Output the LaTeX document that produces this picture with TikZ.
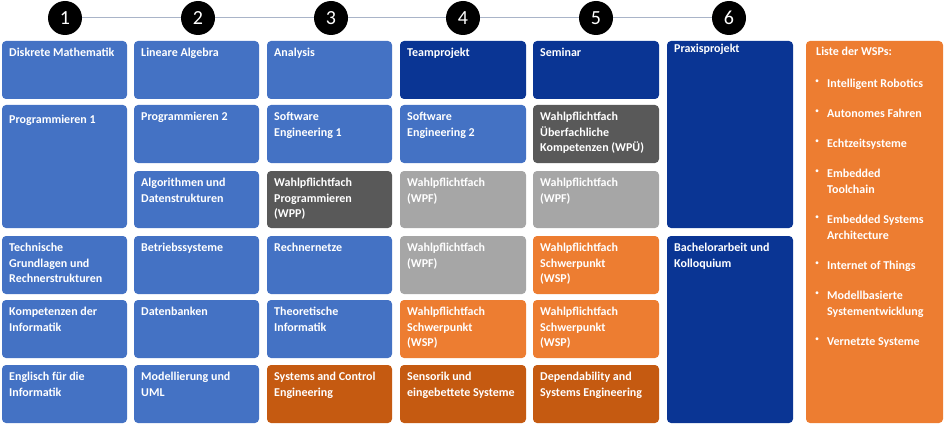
\documentclass[tikz,border=0pt]{standalone}
\usepackage{fontspec}
\setmainfont{Carlito}[BoldFont={Carlito Bold}]
\definecolor{cblue}{HTML}{4472C4}
\definecolor{cdblue}{HTML}{0A3594}
\definecolor{cdgrey}{HTML}{595959}
\definecolor{clgrey}{HTML}{A6A6A6}
\definecolor{corange}{HTML}{ED7D31}
\definecolor{cdorange}{HTML}{C55A11}
\definecolor{cline}{HTML}{A9B4C8}
\tikzset{
 box/.style={rounded corners=4pt},
 lbl/.style={anchor=north west,inner sep=0pt,text=white,font=\bfseries\fontsize{12}{15.5}\selectfont,align=left},
 num/.style={circle,fill=black,minimum size=34pt,inner sep=0pt,text=white,font=\fontsize{20}{20}\selectfont},
}
\newcommand{\bx}[7]{\fill[box,#6] (#2,#3) rectangle (#4,#5);
 \node[lbl] (#1) at (#2+7,#3+7) {#7};}
\begin{document}
\begin{tikzpicture}[x=1pt,y=-1pt]
\useasboundingbox (0,0) rectangle (945,425);
\node[num] (n1) at (65,18) {1};
\node[num] (n2) at (198,18) {2};
\node[num] (n3) at (331,18) {3};
\node[num] (n4) at (463,18) {4};
\node[num] (n5) at (596,18) {5};
\node[num] (n6) at (729,18) {6};
\draw[cline,line width=1pt] (n1)--(n2) (n2)--(n3) (n3)--(n4) (n4)--(n5) (n5)--(n6);
% column 1
\bx{a1}{2}{41}{127}{99}{cblue}{Diskrete Mathematik}
\bx{a2}{2}{105}{127}{228}{cblue}{\\[-4pt]Programmieren 1}
\bx{a4}{2}{236}{127}{294}{cblue}{Technische\\Grundlagen und\\Rechnerstrukturen}
\bx{a5}{2}{300}{127}{358}{cblue}{Kompetenzen der\\Informatik}
\bx{a6}{2}{365}{127}{423}{cblue}{Englisch für die\\Informatik}
% column 2
\bx{b1}{134}{41}{259}{99}{cblue}{Lineare Algebra}
\bx{b2}{134}{105}{259}{163}{cblue}{Programmieren 2}
\bx{b3}{134}{171}{259}{228}{cblue}{Algorithmen und\\Datenstrukturen}
\bx{b4}{134}{236}{259}{294}{cblue}{Betriebssysteme}
\bx{b5}{134}{300}{259}{358}{cblue}{Datenbanken}
\bx{b6}{134}{365}{259}{423}{cblue}{Modellierung und\\UML}
% column 3
\bx{c1}{267}{41}{392}{99}{cblue}{Analysis}
\bx{c2}{267}{105}{392}{163}{cblue}{Software\\Engineering 1}
\bx{c3}{267}{171}{392}{228}{cdgrey}{Wahlpflichtfach\\Programmieren\\(WPP)}
\bx{c4}{267}{236}{392}{294}{cblue}{Rechnernetze}
\bx{c5}{267}{300}{392}{358}{cblue}{Theoretische\\Informatik}
\bx{c6}{267}{365}{392}{423}{cdorange}{Systems and Control\\Engineering}
% column 4
\bx{d1}{400}{41}{526}{99}{cdblue}{Teamprojekt}
\bx{d2}{400}{105}{526}{163}{cblue}{Software\\Engineering 2}
\bx{d3}{400}{171}{526}{228}{clgrey}{Wahlpflichtfach\\(WPF)}
\bx{d4}{400}{236}{526}{294}{clgrey}{Wahlpflichtfach\\(WPF)}
\bx{d5}{400}{300}{526}{358}{corange}{Wahlpflichtfach\\Schwerpunkt\\(WSP)}
\bx{d6}{400}{365}{526}{423}{cdorange}{Sensorik und\\eingebettete Systeme}
% column 5
\bx{e1}{533}{41}{659}{99}{cdblue}{Seminar}
\bx{e2}{533}{105}{659}{163}{cdgrey}{Wahlpflichtfach\\Überfachliche\\Kompetenzen (WPÜ)}
\bx{e3}{533}{171}{659}{228}{clgrey}{Wahlpflichtfach\\(WPF)}
\bx{e4}{533}{236}{659}{294}{corange}{Wahlpflichtfach\\Schwerpunkt\\(WSP)}
\bx{e5}{533}{300}{659}{358}{corange}{Wahlpflichtfach\\Schwerpunkt\\(WSP)}
\bx{e6}{533}{365}{659}{423}{cdorange}{Dependability and\\Systems Engineering}
% column 6
\bx{f1}{667}{41}{793}{228}{cdblue}{\\[-11pt]Praxisprojekt}
\bx{f2}{667}{236}{793}{423}{cdblue}{Bachelorarbeit und\\Kolloquium}
% list
\fill[box,corange] (806,41) rectangle (943,423);
\node[lbl] (lt) at (816,47) {Liste der WSPs:};
\foreach \y/\t [count=\i] in {79/Intelligent Robotics,109/Autonomes Fahren,139/Echtzeitsysteme,169/{Embedded\\Toolchain},215/{Embedded Systems\\Architecture},261/Internet of Things,291/{Modellbasierte\\Systementwicklung},337/Vernetzte Systeme}{
 \node[lbl] (li\i) at (827,\y) {\t};
 \node[lbl,font=\fontsize{8}{15.5}\selectfont] (lb\i) at (815,\y+1) {•};
}
\end{tikzpicture}
\end{document}
